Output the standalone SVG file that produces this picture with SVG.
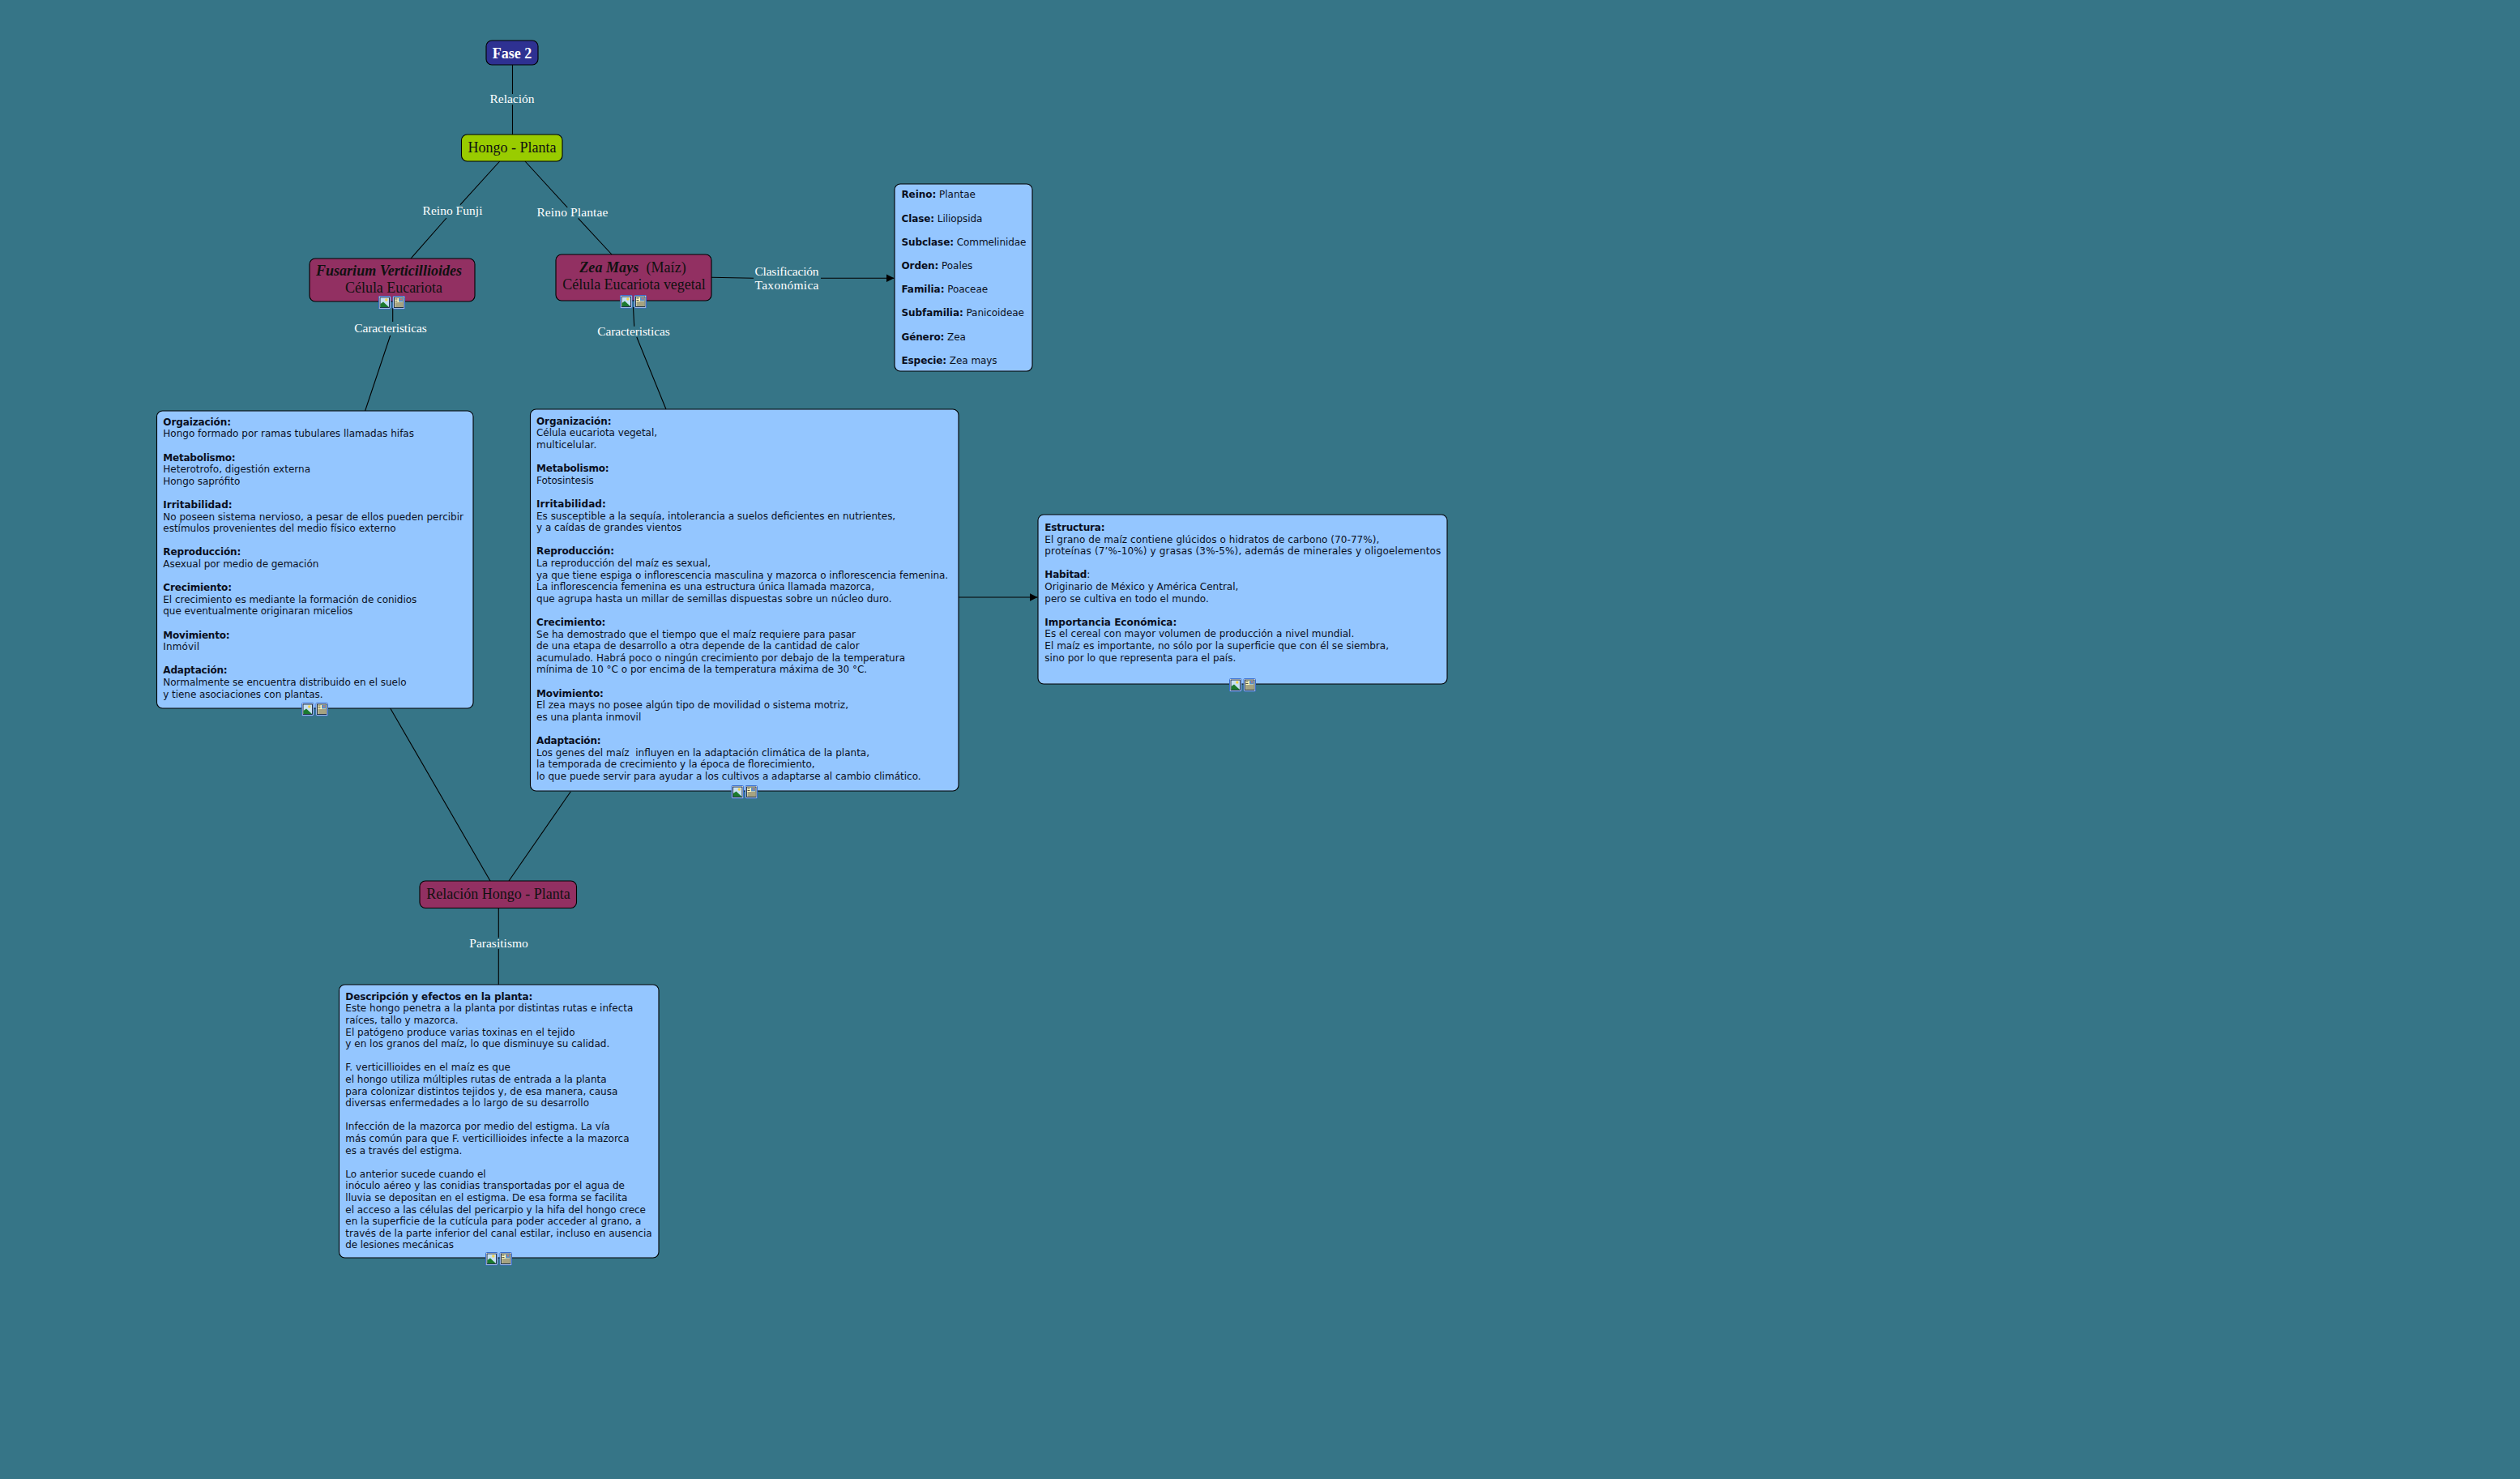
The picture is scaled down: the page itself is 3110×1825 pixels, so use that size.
<svg xmlns="http://www.w3.org/2000/svg" width="3110" height="1825" viewBox="0 0 3110 1825">
<style>
.c{fill:none;stroke:#000;stroke-width:1.1}
.n{stroke:#000;stroke-width:1.1}
.g{fill:#94c6ff}
.m{fill:#923062}
.s{font-family:"Liberation Serif",serif;font-size:18px;text-anchor:middle;fill:#111}
.l{font-family:"Liberation Serif",serif;font-size:15.500px;text-anchor:middle;fill:#fff}
.t{font-family:"DejaVu Sans",Verdana,sans-serif;font-size:12px;fill:#0a0f1e}
.b{font-weight:bold}
</style>
<defs>
<marker id="a" markerUnits="userSpaceOnUse" markerWidth="11" markerHeight="11" refX="10" refY="5" orient="auto"><path d="M0 0L10 5L0 10z" fill="#000"/></marker>
<g id="i1"><rect x=".5" y=".5" width="14.500" height="15.500" rx="1" fill="#fff" stroke="#3a6fd0"/><rect x="2" y="2" width="11.500" height="12.500" fill="#c6e0f2" stroke="#0b1f3a" stroke-width=".9"/><path d="M2.500 14V10L6 7.500L13 14z" fill="#1c7a2e"/><circle cx="9.800" cy="5" r="1.700" fill="#f3d34a"/></g>
<g id="i2"><rect x=".5" y=".5" width="14.500" height="15.500" rx="1" fill="#fff" stroke="#3a6fd0"/><rect x="2" y="2" width="11.500" height="12.500" fill="#fdf8c0" stroke="#0b1f3a" stroke-width=".9"/><rect x="7.500" y="3" width="5" height="4.500" fill="#5b8fc5"/><circle cx="10.500" cy="4.500" r="1" fill="#e0705a"/><path d="M3 4h3M3 6.500h3M3 9h9.500M3 11h9.500M3 13h9.500" stroke="#222" stroke-width=".8"/></g>
</defs>
<rect width="3110" height="1825" fill="#367587"/>
<g id="connectors">
<path class="c" d="M632.500 80V116M632.500 129V166"/>
<path class="c" d="M616.700 199L568 252.700M551 269L507 319"/>
<path class="c" d="M648 199L700.300 256M713.600 269.300L755 314"/>
<path class="c" d="M878 342.300L930 343.300M1013 343.300H1103.500" marker-end="url(#a)"/>
<path class="c" d="M484.700 380V397M481.700 414L450.600 507"/>
<path class="c" d="M781.500 379L782.700 402.700M785.800 416L822 505"/>
<path class="c" d="M1183 737H1280.500" marker-end="url(#a)"/>
<path class="c" d="M481.700 874L605 1087"/>
<path class="c" d="M704.300 976.700L628 1087"/>
<path class="c" d="M615.300 1121V1157M615.300 1171V1215"/>
<text class="l" x="632" y="127" textLength="55">Relación</text>
<text class="l" x="558.500" y="265" textLength="74">Reino Funji</text>
<text class="l" x="706.400" y="267" textLength="88">Reino Plantae</text>
<text class="l" x="971" y="340" textLength="79">Clasificación</text>
<text class="l" x="971" y="356.500" textLength="79">Taxonómica</text>
<text class="l" x="482" y="409.500" textLength="89.500">Caracteristicas</text>
<text class="l" x="782" y="413.500" textLength="89.500">Caracteristicas</text>
<text class="l" x="615.500" y="1169" textLength="72.500">Parasitismo</text>
</g>
<g id="fase2"><rect class="n" x="600" y="50" width="64" height="30" rx="7" fill="#2e3192"/><text class="s b" x="632" y="71.500" style="fill:#fff">Fase 2</text></g>
<g id="hongo"><rect class="n" x="569.500" y="166" width="124.500" height="33" rx="7" fill="#99cc00"/><text class="s" x="632" y="188">Hongo - Planta</text></g>
<g id="fusarium"><rect class="n m" x="382" y="319" width="204" height="53" rx="7"/>
<text class="s b" x="480" y="340" textLength="180" style="font-style:italic">Fusarium Verticillioides</text><text class="s" x="486" y="360.500" textLength="120">Célula Eucariota</text>
<use href="#i1" x="467" y="365"/><use href="#i2" x="484.500" y="365"/></g>
<g id="zea"><rect class="n m" x="686" y="314" width="192" height="57" rx="7"/>
<text class="s" x="781" y="335.500" textLength="131.500" xml:space="preserve"><tspan class="b" style="font-style:italic">Zea Mays</tspan>  (Maíz)</text><text class="s" x="782.500" y="356.500" textLength="176.500">Célula Eucariota vegetal</text>
<use href="#i1" x="765" y="364"/><use href="#i2" x="782.500" y="364"/></g>
<g id="taxonomia"><rect class="n g" x="1104" y="227" width="170" height="231" rx="7"/>
<text class="t" x="1112.400" y="244.300" textLength="91.500"><tspan class="b">Reino:</tspan> Plantae</text>
<text class="t" x="1112.400" y="273.500" textLength="100"><tspan class="b">Clase:</tspan> Liliopsida</text>
<text class="t" x="1112.400" y="302.700" textLength="154"><tspan class="b">Subclase:</tspan> Commelinidae</text>
<text class="t" x="1112.400" y="331.900" textLength="87.900"><tspan class="b">Orden:</tspan> Poales</text>
<text class="t" x="1112.400" y="361.100" textLength="106.700"><tspan class="b">Familia:</tspan> Poaceae</text>
<text class="t" x="1112.400" y="390.300" textLength="151.500"><tspan class="b">Subfamilia:</tspan> Panicoideae</text>
<text class="t" x="1112.400" y="419.500" textLength="79.400"><tspan class="b">Género:</tspan> Zea</text>
<text class="t" x="1112.400" y="448.700" textLength="118.200"><tspan class="b">Especie:</tspan> Zea mays</text></g>
<g id="fusarium-detalle"><rect class="n g" x="193.500" y="507" width="390.500" height="367" rx="7"/>
<text class="t b" x="201.300" y="524.700" textLength="83.700">Orgaización:</text>
<text class="t" x="201.300" y="539.300" textLength="309.700">Hongo formado por ramas tubulares llamadas hifas</text>
<text class="t b" x="201.300" y="568.500" textLength="89.300">Metabolismo:</text>
<text class="t" x="201.300" y="583.100" textLength="181.700">Heterotrofo, digestión externa</text>
<text class="t" x="201.300" y="597.700" textLength="95">Hongo saprófito</text>
<text class="t b" x="201.300" y="626.900" textLength="85.300">Irritabilidad:</text>
<text class="t" x="201.300" y="641.500" textLength="370.700">No poseen sistema nervioso, a pesar de ellos pueden percibir</text>
<text class="t" x="201.300" y="656.100" textLength="287.300">estímulos provenientes del medio físico externo</text>
<text class="t b" x="201.300" y="685.300" textLength="96">Reproducción:</text>
<text class="t" x="201.300" y="699.900" textLength="192">Asexual por medio de gemación</text>
<text class="t b" x="201.300" y="729.100" textLength="84.700">Crecimiento:</text>
<text class="t" x="201.300" y="743.700" textLength="313">El crecimiento es mediante la formación de conidios</text>
<text class="t" x="201.300" y="758.300" textLength="234">que eventualmente originaran micelios</text>
<text class="t b" x="201.300" y="787.500" textLength="82.300">Movimiento:</text>
<text class="t" x="201.300" y="802.100" textLength="44.700">Inmóvil</text>
<text class="t b" x="201.300" y="831.300" textLength="79.300">Adaptación:</text>
<text class="t" x="201.300" y="845.900" textLength="300.300">Normalmente se encuentra distribuido en el suelo</text>
<text class="t" x="201.300" y="860.500" textLength="197.300">y tiene asociaciones con plantas.</text>
<use href="#i1" x="372" y="867"/><use href="#i2" x="389.500" y="867"/></g>
<g id="zea-detalle"><rect class="n g" x="654.500" y="505" width="528.500" height="471" rx="7"/>
<text class="t b" x="662" y="523.700" textLength="92.500">Organización:</text>
<text class="t" x="662" y="538.300" textLength="149">Célula eucariota vegetal,</text>
<text class="t" x="662" y="552.900" textLength="74.300">multicelular.</text>
<text class="t b" x="662" y="582.100" textLength="89.600">Metabolismo:</text>
<text class="t" x="662" y="596.700" textLength="70.700">Fotosintesis</text>
<text class="t b" x="662" y="625.900" textLength="85.700">Irritabilidad:</text>
<text class="t" x="662" y="640.500" textLength="443.200">Es susceptible a la sequía, intolerancia a suelos deficientes en nutrientes,</text>
<text class="t" x="662" y="655.100" textLength="179.300">y a caídas de grandes vientos</text>
<text class="t b" x="662" y="684.300" textLength="96">Reproducción:</text>
<text class="t" x="662" y="698.900" textLength="215">La reproducción del maíz es sexual,</text>
<text class="t" x="662" y="713.500" textLength="508.200">ya que tiene espiga o inflorescencia masculina y mazorca o inflorescencia femenina.</text>
<text class="t" x="662" y="728.100" textLength="417">La inflorescencia femenina es una estructura única llamada mazorca,</text>
<text class="t" x="662" y="742.700" textLength="438.600">que agrupa hasta un millar de semillas dispuestas sobre un núcleo duro.</text>
<text class="t b" x="662" y="771.900" textLength="85.400">Crecimiento:</text>
<text class="t" x="662" y="786.500" textLength="394">Se ha demostrado que el tiempo que el maíz requiere para pasar</text>
<text class="t" x="662" y="801.100" textLength="398.600">de una etapa de desarrollo a otra depende de la cantidad de calor</text>
<text class="t" x="662" y="815.700" textLength="455">acumulado. Habrá poco o ningún crecimiento por debajo de la temperatura</text>
<text class="t" x="662" y="830.300" textLength="408.200">mínima de 10 °C o por encima de la temperatura máxima de 30 °C.</text>
<text class="t b" x="662" y="859.500" textLength="82.900">Movimiento:</text>
<text class="t" x="662" y="874.100" textLength="385">El zea mays no posee algún tipo de movilidad o sistema motriz,</text>
<text class="t" x="662" y="888.700" textLength="129.300">es una planta inmovil</text>
<text class="t b" x="662" y="917.900" textLength="79.600">Adaptación:</text>
<text class="t" x="662" y="932.500" textLength="411" xml:space="preserve">Los genes del maíz  influyen en la adaptación climática de la planta,</text>
<text class="t" x="662" y="947.100" textLength="343.600">la temporada de crecimiento y la época de florecimiento,</text>
<text class="t" x="662" y="961.700" textLength="474.600">lo que puede servir para ayudar a los cultivos a adaptarse al cambio climático.</text>
<use href="#i1" x="902.500" y="969"/><use href="#i2" x="919.500" y="969"/></g>
<g id="maiz-detalle"><rect class="n g" x="1281" y="635" width="505" height="209" rx="7"/>
<text class="t b" x="1289.300" y="655" textLength="74.300">Estructura:</text>
<text class="t" x="1289.300" y="669.600" textLength="413">El grano de maíz contiene glúcidos o hidratos de carbono (70-77%),</text>
<text class="t" x="1289.300" y="684.200" textLength="489">proteínas (7’%-10%) y grasas (3%-5%), además de minerales y oligoelementos</text>
<text class="t" x="1289.300" y="713.400" textLength="56"><tspan class="b">Habitad</tspan>:</text>
<text class="t" x="1289.300" y="728" textLength="239">Originario de México y América Central,</text>
<text class="t" x="1289.300" y="742.600" textLength="202.500">pero se cultiva en todo el mundo.</text>
<text class="t b" x="1289.300" y="771.800" textLength="163">Importancia Económica:</text>
<text class="t" x="1289.300" y="786.400" textLength="382">Es el cereal con mayor volumen de producción a nivel mundial.</text>
<text class="t" x="1289.300" y="801" textLength="424.700">El maíz es importante, no sólo por la superficie que con él se siembra,</text>
<text class="t" x="1289.300" y="815.600" textLength="236">sino por lo que representa para el país.</text>
<use href="#i1" x="1517" y="837"/><use href="#i2" x="1534.500" y="837"/></g>
<g id="relacion"><rect class="n m" x="518" y="1087" width="193.500" height="33.500" rx="7"/><text class="s" x="615" y="1108.500">Relación Hongo - Planta</text></g>
<g id="relacion-detalle"><rect class="n g" x="418.500" y="1215" width="394.500" height="337" rx="7"/>
<text class="t b" x="426.300" y="1233.700" textLength="231">Descripción y efectos en la planta:</text>
<text class="t" x="426.300" y="1248.300" textLength="355">Este hongo penetra a la planta por distintas rutas e infecta</text>
<text class="t" x="426.300" y="1262.900" textLength="139.300">raíces, tallo y mazorca.</text>
<text class="t" x="426.300" y="1277.500" textLength="283.300">El patógeno produce varias toxinas en el tejido</text>
<text class="t" x="426.300" y="1292.100" textLength="326">y en los granos del maíz, lo que disminuye su calidad.</text>
<text class="t" x="426.300" y="1321.300" textLength="203.700">F. verticillioides en el maíz es que</text>
<text class="t" x="426.300" y="1335.900" textLength="322.300">el hongo utiliza múltiples rutas de entrada a la planta</text>
<text class="t" x="426.300" y="1350.500" textLength="336">para colonizar distintos tejidos y, de esa manera, causa</text>
<text class="t" x="426.300" y="1365.100" textLength="300.700">diversas enfermedades a lo largo de su desarrollo</text>
<text class="t" x="426.300" y="1394.300" textLength="326.300">Infección de la mazorca por medio del estigma. La vía</text>
<text class="t" x="426.300" y="1408.900" textLength="350.300">más común para que F. verticillioides infecte a la mazorca</text>
<text class="t" x="426.300" y="1423.500" textLength="144">es a través del estigma.</text>
<text class="t" x="426.300" y="1452.700" textLength="173.300">Lo anterior sucede cuando el</text>
<text class="t" x="426.300" y="1467.300" textLength="344.700">inóculo aéreo y las conidias transportadas por el agua de</text>
<text class="t" x="426.300" y="1481.900" textLength="348">lluvia se depositan en el estigma. De esa forma se facilita</text>
<text class="t" x="426.300" y="1496.500" textLength="370.700">el acceso a las células del pericarpio y la hifa del hongo crece</text>
<text class="t" x="426.300" y="1511.100" textLength="365">en la superficie de la cutícula para poder acceder al grano, a</text>
<text class="t" x="426.300" y="1525.700" textLength="378.300">través de la parte inferior del canal estilar, incluso en ausencia</text>
<text class="t" x="426.300" y="1540.300" textLength="133.700">de lesiones mecánicas</text>
<use href="#i1" x="599" y="1545"/><use href="#i2" x="616.500" y="1545"/></g>
</svg>
